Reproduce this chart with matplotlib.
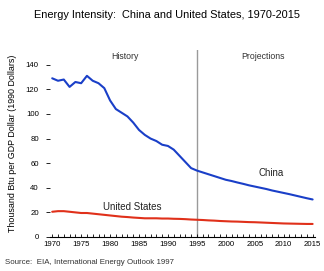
import matplotlib
matplotlib.use("Agg")
import matplotlib.pyplot as plt
from matplotlib import font_manager
from matplotlib.ticker import MultipleLocator

names = {f.name for f in font_manager.fontManager.ttflist}
base_font = "Liberation Sans" if "Liberation Sans" in names else "DejaVu Sans"
narrow_font = "Liberation Sans Narrow" if "Liberation Sans Narrow" in names else base_font
plt.rcParams['font.family'] = [base_font, 'DejaVu Sans']

# Data
china_years = list(range(1970, 2016))
china_values = [129, 127, 128, 122, 126, 125, 131, 127, 125, 121,
                111, 104, 101, 98, 93, 87, 83, 80, 78, 75,
                74, 71, 66, 61, 56, 54, 52.5, 51, 49.5, 48,
                46.5, 45.5, 44.3, 43.2, 42, 41, 40, 39, 37.8, 36.8,
                35.8, 34.8, 33.7, 32.6, 31.5, 30.5]
us_years = list(range(1970, 2016))
us_values = [20.5, 21, 21, 20.5, 20, 19.5, 19.5, 19, 18.5, 18,
             17.5, 17, 16.5, 16.2, 15.8, 15.5, 15.2, 15.2, 15.2, 15,
             15, 14.8, 14.7, 14.5, 14.2, 14, 13.8, 13.5, 13.3, 13,
             12.8, 12.6, 12.5, 12.3, 12.1, 12, 11.8, 11.6, 11.4, 11.2,
             11, 10.9, 10.8, 10.7, 10.6, 10.6]
x_ticks = [1970, 1975, 1980, 1985, 1990, 1995, 2000, 2005, 2010, 2015]
y_ticks = [0, 20, 40, 60, 80, 100, 120, 140]
split_year = 1995

fig = plt.figure(figsize=(3.24, 2.71), dpi=100)
ax = fig.add_axes([0.154, 0.1255, 0.818, 0.69])

ax.plot(china_years, china_values, color="#1a3fc8", lw=1.5, solid_capstyle="round")
ax.plot(us_years, us_values, color="#e0301a", lw=1.5, solid_capstyle="round")
ax.axvline(split_year, color="#9a9a9a", lw=1.0, zorder=0)

ax.set_xlim(1969.6, 2015.4)
ax.set_ylim(0, 152)
ax.set_xticks(x_ticks)
ax.xaxis.set_minor_locator(MultipleLocator(1))
ax.set_yticks(y_ticks)

for s in ["top", "right", "left"]:
    ax.spines[s].set_visible(False)
ax.spines["bottom"].set_linewidth(0.8)

ax.tick_params(axis="x", which="both", direction="in", length=2.5, width=0.6,
               labelsize=5.6, pad=3)
ax.tick_params(axis="y", direction="out", length=3, width=0.6, labelsize=5.6, pad=5)
for lab in ax.get_xticklabels() + ax.get_yticklabels():
    lab.set_fontfamily(narrow_font)

ax.set_ylabel("Thousand Btu per GDP Dollar (1990 Dollars)", fontsize=6.4, labelpad=6)

ax.text(1982.5, 146.5, "History", fontsize=6.3, ha="center", va="center", color="#333333")
ax.text(2006.5, 146.5, "Projections", fontsize=6.3, ha="center", va="center", color="#333333")
ax.text(2007.8, 52, "China", fontsize=7, ha="center", va="center", color="#222222")
ax.text(1983.8, 24.7, "United States", fontsize=7, ha="center", va="center", color="#222222")

fig.text(167 / 324, 1 - 15 / 271, "Energy Intensity:  China and United States, 1970-2015",
         fontsize=7.9, ha="center", va="center")
fig.text(5 / 324, 1 - 262 / 271, "Source:  EIA, International Energy Outlook 1997",
         fontsize=5.7, ha="left", va="center", color="#333333")

fig.savefig("out.png", dpi=100)
